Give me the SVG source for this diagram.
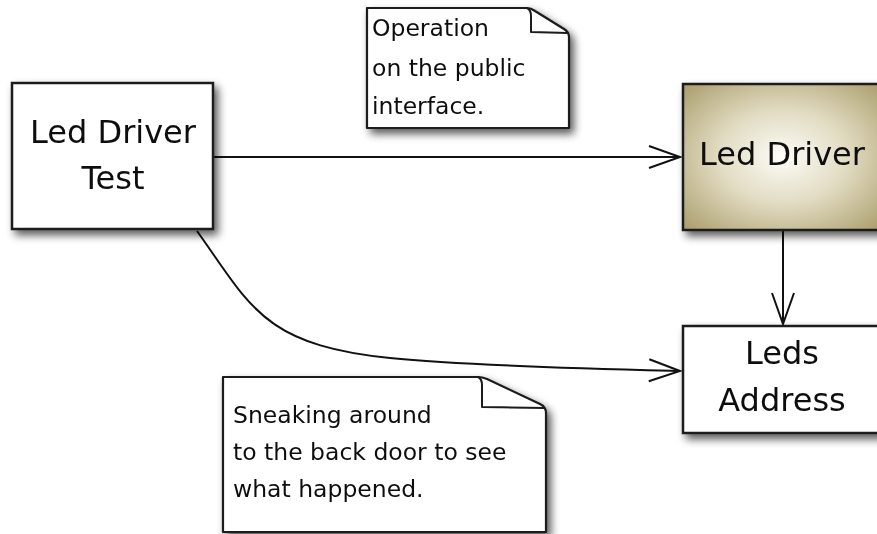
<svg xmlns="http://www.w3.org/2000/svg" width="877" height="534" viewBox="0 0 877 534">
  <style>
    .box { fill: #ffffff; stroke: #1a1a1a; stroke-width: 2.5; }
    .note { fill: #ffffff; stroke: #1a1a1a; stroke-width: 2.2; stroke-linejoin: round; }
    .fold { fill: none; stroke: #1a1a1a; stroke-width: 2; stroke-linejoin: round; }
    .lbl { font-family: "DejaVu Sans", "Liberation Sans", sans-serif; font-size: 32px; fill: #111; text-anchor: middle; }
    .ntxt { font-family: "DejaVu Sans", "Liberation Sans", sans-serif; font-size: 23.5px; fill: #111; }
    .conn { fill: none; stroke: #111; stroke-width: 2; }
  </style>
  <defs>
    <filter id="shadow" x="-20%" y="-20%" width="150%" height="150%">
      <feGaussianBlur in="SourceAlpha" stdDeviation="4"/>
      <feOffset dx="4" dy="5" result="b"/>
      <feComponentTransfer><feFuncA type="linear" slope="0.65"/></feComponentTransfer>
      <feMerge><feMergeNode/><feMergeNode in="SourceGraphic"/></feMerge>
    </filter>
    <radialGradient id="olive" cx="0.5" cy="0.5" r="0.7">
      <stop offset="0" stop-color="#fdfcf8"/>
      <stop offset="0.45" stop-color="#e2dcc3"/>
      <stop offset="1" stop-color="#aa9d6b"/>
    </radialGradient>
    <marker id="arrow" markerUnits="userSpaceOnUse" markerWidth="40" markerHeight="30" refX="32" refY="12" orient="auto">
      <path d="M1,1 L32,12 L1,23" fill="none" stroke="#111" stroke-width="2"/>
    </marker>
  </defs>

  <g id="connectors">
    <path class="conn" d="M213,157 L680,157" marker-end="url(#arrow)"/>
    <path class="conn" d="M783,231 L783,324" marker-end="url(#arrow)"/>
    <path class="conn" d="M197,231 C250,305 262,345 390,358 C470,366 600,369 680,371" marker-end="url(#arrow)"/>
  </g>

  <g id="led-driver-test" filter="url(#shadow)">
    <rect class="box" x="12" y="83" width="201" height="146"/>
    <text class="lbl" x="113" y="143">Led Driver</text>
    <text class="lbl" x="113" y="189">Test</text>
  </g>

  <g id="led-driver" filter="url(#shadow)">
    <rect class="box" x="683" y="84" width="200" height="146" style="fill:url(#olive)"/>
    <text class="lbl" x="782" y="165">Led Driver</text>
  </g>

  <g id="leds-address" filter="url(#shadow)">
    <rect class="box" x="683" y="326" width="200" height="107"/>
    <text class="lbl" x="782" y="364">Leds</text>
    <text class="lbl" x="782" y="411">Address</text>
  </g>

  <g id="note-operation" filter="url(#shadow)">
    <path class="note" d="M367,8 L527,8 Q531,8 535,11 L564,29 Q569,32 569,37 L569,128 L367,128 Z"/>
    <path class="fold" d="M527,8 Q531,10 531,16 L531,32 L568,33"/>
    <text class="ntxt" x="372" y="36">Operation</text>
    <text class="ntxt" x="372" y="76">on the public</text>
    <text class="ntxt" x="372" y="114">interface.</text>
  </g>

  <g id="note-sneaking" filter="url(#shadow)">
    <path class="note" d="M223,377 L478,377 Q482,377 487,379 L540,404 Q546,407 546,413 L546,532 L223,532 Z"/>
    <path class="fold" d="M478,377 Q482,379 482,385 L482,407 L545,408"/>
    <text class="ntxt" x="233" y="423">Sneaking around</text>
    <text class="ntxt" x="233" y="460">to the back door to see</text>
    <text class="ntxt" x="233" y="497">what happened.</text>
  </g>
</svg>
